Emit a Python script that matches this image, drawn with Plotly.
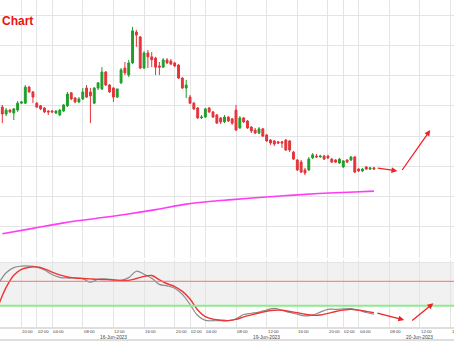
import plotly.graph_objects as go

# ---- 30-minute candles (index = bar number) ----
open_ = [4439.6, 4437.3, 4438.6, 4437.6, 4438.6, 4440.9, 4440.9, 4446.2, 4444.6, 4440.9,
         4440.0, 4439.3, 4438.3, 4438.3, 4437.6, 4437.0, 4438.3, 4440.0, 4444.3, 4442.6,
         4441.3, 4442.3, 4445.9, 4444.6, 4440.9, 4445.9, 4445.6, 4451.2, 4446.9, 4445.9,
         4442.9, 4447.6, 4452.5, 4450.2, 4454.2, 4464.4, 4462.8, 4452.5, 4457.5, 4456.2,
         4455.8, 4453.2, 4452.8, 4455.2, 4454.8, 4454.2, 4453.5, 4449.2, 4445.9, 4442.9,
         4440.9, 4439.3, 4436.0, 4436.3, 4439.3, 4438.0, 4437.0, 4436.0, 4434.7, 4436.3,
         4435.7, 4438.6, 4432.7, 4436.0, 4435.0, 4433.0, 4432.0, 4431.0, 4432.4, 4430.4,
         4428.7, 4428.4, 4428.1, 4428.1, 4428.7, 4428.4, 4424.7, 4422.1, 4421.4, 4418.8,
         4418.8, 4422.8, 4423.4, 4423.1, 4423.4, 4423.4, 4422.4, 4422.1, 4421.1, 4419.8,
         4422.1, 4422.1, 4423.1, 4419.1, 4418.5, 4419.8, 4419.1, 4419.5]
high = [4440.3, 4439.3, 4439.0, 4439.3, 4441.6, 4441.6, 4446.9, 4446.6, 4444.9, 4441.3,
        4440.3, 4439.6, 4438.6, 4438.6, 4438.6, 4439.0, 4440.6, 4444.6, 4444.6, 4442.9,
        4442.9, 4445.9, 4446.9, 4445.9, 4446.2, 4447.9, 4452.8, 4451.5, 4447.2, 4446.2,
        4445.6, 4452.5, 4454.5, 4455.2, 4466.1, 4465.1, 4463.1, 4458.1, 4458.5, 4457.8,
        4456.2, 4454.5, 4455.8, 4455.8, 4455.5, 4454.5, 4453.8, 4449.5, 4448.6, 4443.6,
        4441.3, 4439.6, 4437.0, 4439.3, 4439.6, 4438.3, 4437.3, 4436.3, 4437.0, 4436.6,
        4436.0, 4440.3, 4436.6, 4436.3, 4435.3, 4433.3, 4432.7, 4433.0, 4432.7, 4430.7,
        4429.0, 4428.7, 4428.4, 4428.4, 4429.0, 4428.7, 4425.1, 4422.4, 4422.1, 4419.5,
        4423.1, 4424.4, 4424.1, 4423.8, 4423.8, 4423.8, 4422.8, 4422.4, 4422.8, 4422.1,
        4422.4, 4423.4, 4423.4, 4419.5, 4419.5, 4420.1, 4419.8, 4419.8]
low = [4434.3, 4436.6, 4437.6, 4435.3, 4438.0, 4440.6, 4440.6, 4444.3, 4440.9, 4439.3,
       4438.6, 4437.6, 4437.0, 4437.6, 4437.3, 4436.6, 4438.0, 4439.6, 4441.9, 4440.9,
       4440.9, 4441.9, 4442.6, 4434.3, 4440.6, 4445.2, 4445.2, 4446.6, 4444.3, 4441.3,
       4442.6, 4447.2, 4450.2, 4449.5, 4453.8, 4459.5, 4452.2, 4452.2, 4452.5, 4452.8,
       4450.2, 4450.2, 4452.5, 4453.8, 4453.5, 4452.8, 4448.9, 4445.6, 4442.6, 4440.6,
       4438.6, 4435.7, 4435.7, 4436.0, 4437.6, 4436.0, 4434.0, 4434.0, 4434.3, 4434.7,
       4433.7, 4431.7, 4432.4, 4434.3, 4432.4, 4431.0, 4430.7, 4430.7, 4429.7, 4428.1,
       4427.1, 4426.7, 4427.4, 4426.1, 4425.1, 4424.7, 4422.1, 4418.5, 4417.8, 4417.1,
       4418.5, 4422.4, 4422.8, 4422.8, 4422.1, 4422.4, 4421.1, 4421.1, 4420.8, 4419.5,
       4421.1, 4421.8, 4417.8, 4418.1, 4418.1, 4418.8, 4418.8, 4418.8]
close = [4437.3, 4438.6, 4438.0, 4439.0, 4440.9, 4441.3, 4446.2, 4444.6, 4442.9, 4439.6,
         4439.0, 4438.0, 4438.0, 4438.0, 4438.3, 4438.6, 4440.3, 4443.9, 4442.3, 4441.3,
         4442.3, 4444.6, 4442.9, 4443.3, 4445.9, 4447.6, 4451.2, 4446.9, 4444.6, 4442.9,
         4445.6, 4451.9, 4450.9, 4454.2, 4464.8, 4463.4, 4452.5, 4457.5, 4456.2, 4455.2,
         4452.8, 4452.8, 4455.2, 4454.2, 4453.8, 4453.2, 4449.2, 4445.9, 4446.9, 4440.9,
         4439.0, 4436.0, 4436.3, 4439.0, 4438.0, 4436.3, 4434.3, 4434.7, 4436.3, 4435.0,
         4434.3, 4432.0, 4436.0, 4434.7, 4432.7, 4431.7, 4431.0, 4432.4, 4430.0, 4428.4,
         4427.7, 4427.4, 4427.7, 4427.7, 4425.4, 4425.4, 4422.4, 4418.8, 4418.1, 4417.8,
         4422.4, 4423.8, 4423.1, 4423.4, 4422.4, 4422.8, 4421.4, 4421.4, 4422.4, 4421.8,
         4421.4, 4423.1, 4418.1, 4418.5, 4419.1, 4419.1, 4419.5, 4419.1]
bars = list(range(len(close)))

# ---- long moving average ----
ma_bar = [0, 8, 16, 24, 32, 40, 48, 54, 60, 68, 76, 84, 92, 97]
ma_val = [4397.7, 4399.5, 4401.3, 4402.7, 4404.1, 4405.7, 4407.5, 4408.4, 4409.0, 4409.8,
          4410.5, 4411.1, 4411.5, 4411.8]

# ---- stochastic oscillator ----
st_bar = list(range(-1, 98, 2))
st_k = [66, 84, 92.5, 94.8, 95, 93.5, 88.5, 81, 76.5, 75.4,
        75.4, 74.2, 68.5, 73.5, 74, 72.4, 71.5, 76, 86.5, 81.5,
        74.9, 65, 62.5, 58.7, 48.5, 32, 14, 6, 5.4, 5.4,
        5.4, 8.5, 15.6, 17.6, 19.6, 23, 25.5, 22.5, 19, 16,
        13.3, 14.5, 19.5, 24.1, 24.1, 24.8, 25.2, 22.5, 18.8, 16]
st_d = [31, 60, 80, 89.5, 93, 93.5, 90.5, 85, 80.5, 77,
        75.5, 74.7, 73.9, 73.2, 72.8, 72.2, 71.5, 71.5, 74.5, 78,
        79.5, 72.5, 66, 61.3, 53.5, 41, 23, 12, 8, 6.4,
        5.6, 7.5, 11.8, 15, 18, 21, 22.5, 22.5, 20.5, 18.5,
        16, 14.3, 14.7, 17.5, 20.5, 22.8, 24, 22.8, 20.7, 18.5]
st_upper, st_lower = 70, 30

# ---- time axis ----
tick_bar = [5, 9, 13, 21, 29, 37, 45, 49, 53, 61, 69, 77, 85, 89, 93, 101, 109, 117]
tick_txt = ["20:00", "02:00", "04:00", "08:00", "12:00", "16:00", "20:00", "02:00", "04:00",
            "08:00", "12:00", "16:00", "20:00", "02:00", "04:00", "08:00", "12:00", "16:00"]
day_bar = [29, 69, 109]
day_txt = ["16-Jun-2023", "19-Jun-2023", "20-Jun-2023"]

# projected path arrows: (start bar, start value, end bar, end value)
price_arrows = [(97.6, 4419.5, 103.1, 4418.5), (104.1, 4418.3, 111.7, 4432.0)]
stoch_arrows = [(97.5, 18.5, 104.9, 6.6), (106.6, 3.8, 112.5, 34.0)]

GREEN = "#1f9e2a"
RED = "#e3343a"
GRID = "#e4e4e4"
H = 341.0

fig = go.Figure()
fig.add_trace(go.Candlestick(
    x=bars, open=open_, high=high, low=low, close=close,
    increasing=dict(line=dict(color=GREEN, width=1), fillcolor=GREEN),
    decreasing=dict(line=dict(color=RED, width=1), fillcolor=RED),
    whiskerwidth=0, showlegend=False, hoverinfo="skip", xaxis="x", yaxis="y"))
fig.add_trace(go.Scatter(x=ma_bar, y=ma_val, mode="lines", line=dict(color="#ff3cf5", width=1.6, shape="spline"),
                         showlegend=False, hoverinfo="skip", xaxis="x", yaxis="y"))
fig.add_trace(go.Scatter(x=st_bar, y=st_k, mode="lines", line=dict(color="#8c8c8c", width=1.2, shape="spline"),
                         showlegend=False, hoverinfo="skip", xaxis="x2", yaxis="y2"))
fig.add_trace(go.Scatter(x=st_bar, y=st_d, mode="lines", line=dict(color="#ee3535", width=1.4, shape="spline"),
                         showlegend=False, hoverinfo="skip", xaxis="x2", yaxis="y2"))

shapes = [
    dict(type="rect", xref="x2 domain", yref="y2", x0=0, x1=1, y0=st_lower, y1=100,
         fillcolor="#f1f1f1", line=dict(width=0), layer="below"),
    dict(type="line", xref="x2 domain", yref="y2", x0=0, x1=1, y0=st_upper, y1=st_upper,
         line=dict(color="#ff6f6f", width=1)),
    dict(type="line", xref="x2 domain", yref="y2", x0=0, x1=1, y0=st_lower, y1=st_lower,
         line=dict(color="#8fea8f", width=2)),
    dict(type="line", xref="paper", yref="paper", x0=0, x1=1, y0=1 - 328 / H, y1=1 - 328 / H,
         line=dict(color="#bdbdbd", width=1)),
    dict(type="line", xref="paper", yref="paper", x0=0, x1=1, y0=1 - 340 / H, y1=1 - 340 / H,
         line=dict(color="#bdbdbd", width=1)),
]

annotations = [dict(text="<b>Chart</b>", xref="paper", yref="paper", x=0.0, y=1 - 21 / H,
                    xanchor="left", yanchor="middle", showarrow=False,
                    font=dict(family="Arial, Liberation Sans", size=12, color="#e8140c"))]
for b, t in zip(tick_bar, tick_txt):
    annotations.append(dict(text=t, xref="x2", yref="paper", x=b, y=1 - 331.5 / H, xanchor="left",
                            yanchor="middle", showarrow=False, xshift=-1,
                            font=dict(family="Arial, Liberation Sans", size=4.3, color="#444")))
for b, t in zip(day_bar, day_txt):
    annotations.append(dict(text=t, xref="x2", yref="paper", x=b, y=1 - 337 / H, xanchor="center",
                            yanchor="middle", showarrow=False,
                            font=dict(family="Arial, Liberation Sans", size=4.8, color="#444")))
for (x0, y0, x1, y1) in price_arrows:
    annotations.append(dict(x=x1, y=y1, ax=x0, ay=y0, xref="x", yref="y", axref="x", ayref="y",
                            showarrow=True, arrowhead=2, arrowsize=0.9, arrowwidth=1.3,
                            arrowcolor="#ee2222", text=""))
for (x0, y0, x1, y1) in stoch_arrows:
    annotations.append(dict(x=x1, y=y1, ax=x0, ay=y0, xref="x2", yref="y2", axref="x2", ayref="y2",
                            showarrow=True, arrowhead=2, arrowsize=0.9, arrowwidth=1.3,
                            arrowcolor="#ee2222", text=""))

xcommon = dict(range=[-0.6, 117.9], tickvals=tick_bar, showticklabels=False, ticks="",
               showgrid=True, gridcolor=GRID, gridwidth=1, zeroline=False, showline=False)

fig.update_layout(
    width=454, height=341, margin=dict(l=0, r=0, t=0, b=0),
    paper_bgcolor="white", plot_bgcolor="white",
    xaxis=dict(**xcommon, anchor="y", domain=[0, 1], rangeslider=dict(visible=False)),
    xaxis2=dict(**xcommon, anchor="y2", domain=[0, 1], matches="x"),
    yaxis=dict(domain=[1 - 258 / H, 1], range=[4389.7, 4475], tick0=4390, dtick=10,
               showticklabels=False, ticks="", showgrid=True, gridcolor=GRID, zeroline=False),
    yaxis2=dict(domain=[1 - 327 / H, 1 - 260 / H], range=[-4.9, 104.9], tickvals=[100],
                showticklabels=False, ticks="", showgrid=True, gridcolor=GRID, zeroline=False),
    shapes=shapes, annotations=annotations, showlegend=False,
)

fig.write_html("out.html")
